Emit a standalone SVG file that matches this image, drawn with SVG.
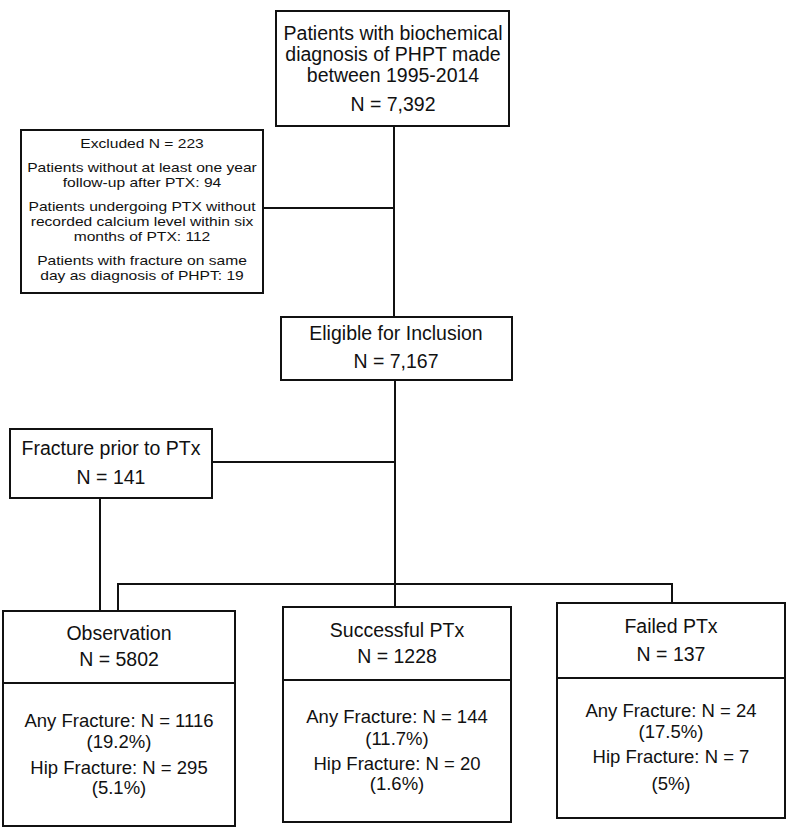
<svg xmlns="http://www.w3.org/2000/svg" width="800" height="832" viewBox="0 0 800 832">
<style>
.box{fill:#fff;stroke:#111;stroke-width:2}
.ln{fill:none;stroke:#111;stroke-width:2}
text{font-family:"Liberation Sans",Arial,sans-serif;fill:#111;text-anchor:middle}
.t{font-size:19.5px}
.s{font-size:13px}
.b{font-size:18.5px}
</style>
<rect width="800" height="832" fill="#fff"/>
<g id="connectors">
<path class="ln" d="M394 126V317M263 208H394M395 380V584M212 462H395M100 498V611M118 611V584H672V603M395 584V607"/>
</g>
<g id="top">
<rect class="box" x="276" y="11" width="233" height="115"/>
<text class="t" x="393" y="40">Patients with biochemical</text>
<text class="t" x="393" y="61">diagnosis of PHPT made</text>
<text class="t" x="393" y="82">between 1995-2014</text>
<text class="t" x="393" y="111">N = 7,392</text>
</g>
<g id="excluded">
<rect class="box" x="21" y="130" width="242" height="163"/>
<g transform="translate(142 0) scale(1.2 1)">
<text class="s" x="0" y="148">Excluded N = 223</text>
<text class="s" x="0" y="172">Patients without at least one year</text>
<text class="s" x="0" y="187">follow-up after PTX: 94</text>
<text class="s" x="0" y="211">Patients undergoing PTX without</text>
<text class="s" x="0" y="226">recorded calcium level within six</text>
<text class="s" x="0" y="241">months of PTX: 112</text>
<text class="s" x="0" y="265">Patients with fracture on same</text>
<text class="s" x="0" y="280">day as diagnosis of PHPT: 19</text>
</g>
</g>
<g id="eligible">
<rect class="box" x="281" y="317" width="231" height="63"/>
<text class="t" x="396" y="340">Eligible for Inclusion</text>
<text class="t" x="396" y="368">N = 7,167</text>
</g>
<g id="fracture-prior">
<rect class="box" x="10" y="429" width="202" height="69"/>
<text class="t" x="111" y="455">Fracture prior to PTx</text>
<text class="t" x="111" y="484">N = 141</text>
</g>
<g id="observation">
<rect class="box" x="3" y="611" width="232" height="215"/>
<path class="ln" d="M3 683H235"/>
<text class="t" x="119" y="640">Observation</text>
<text class="t" x="119" y="666">N = 5802</text>
<text class="b" x="119" y="727">Any Fracture: N = 1116</text>
<text class="b" x="119" y="748">(19.2%)</text>
<text class="b" x="119" y="774">Hip Fracture: N = 295</text>
<text class="b" x="119" y="794">(5.1%)</text>
</g>
<g id="successful">
<rect class="box" x="283" y="607" width="228" height="215"/>
<path class="ln" d="M283 680H511"/>
<text class="t" x="397" y="637">Successful PTx</text>
<text class="t" x="397" y="663">N = 1228</text>
<text class="b" x="397" y="723">Any Fracture: N = 144</text>
<text class="b" x="397" y="745">(11.7%)</text>
<text class="b" x="397" y="770">Hip Fracture: N = 20</text>
<text class="b" x="397" y="790">(1.6%)</text>
</g>
<g id="failed">
<rect class="box" x="557" y="603" width="228" height="215"/>
<path class="ln" d="M557 678H785"/>
<text class="t" x="671" y="633">Failed PTx</text>
<text class="t" x="671" y="661">N = 137</text>
<text class="b" x="671" y="717">Any Fracture: N = 24</text>
<text class="b" x="671" y="738">(17.5%)</text>
<text class="b" x="671" y="763">Hip Fracture: N = 7</text>
<text class="b" x="671" y="790">(5%)</text>
</g>
</svg>
